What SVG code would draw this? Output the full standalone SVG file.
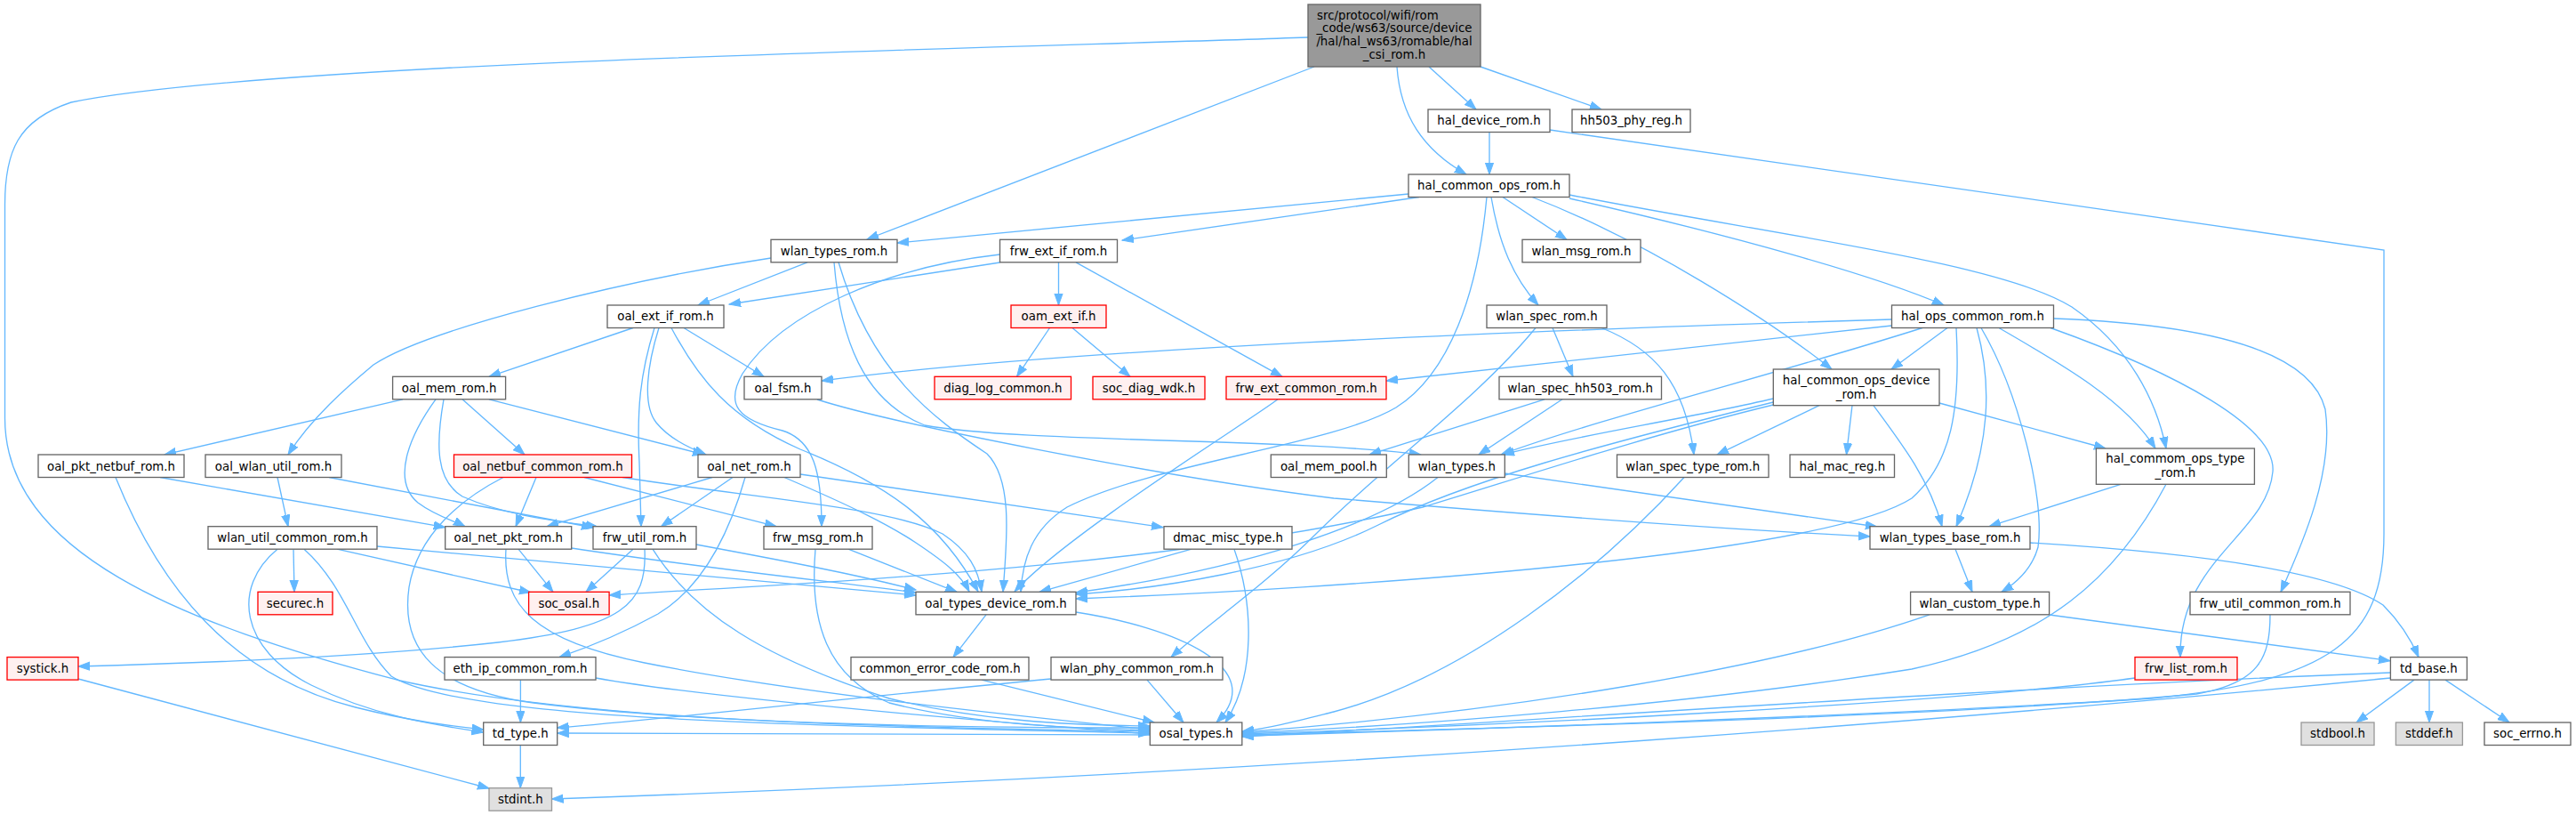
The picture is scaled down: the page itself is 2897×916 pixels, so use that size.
<svg xmlns="http://www.w3.org/2000/svg" width="2897" height="916" viewBox="0 0 2897 916">
<style>
.nd rect{fill:#ffffff;stroke:#666666;stroke-width:1.33}
.rd rect{fill:#fff0f0;stroke:#ff0000;stroke-width:1.33}
.gr rect{fill:#e0e0e0;stroke:#999999;stroke-width:1.33}
.rt rect{fill:#999999;stroke:#666666;stroke-width:1.33}
text{font-family:"DejaVu Sans","Liberation Sans",sans-serif;font-size:13.33px;fill:#000;text-anchor:middle}
#edges path{fill:none;stroke:#63b8ff;stroke-width:1.33;marker-end:url(#a)}
</style>
<defs>
<marker id="a" markerUnits="userSpaceOnUse" markerWidth="15" markerHeight="11" refX="13" refY="5" orient="auto">
<path d="M0,0.4 L13,5 L0,9.6 Z" fill="#63b8ff" stroke="#63b8ff" stroke-width="1"/>
</marker>
</defs>
<rect width="2897" height="916" fill="#ffffff"/>
<g id="edges">
<path d="M1471,42 C1100,55 300,70 80,115 C20,135 5.5,170 5.5,230 L5.5,470 C5.5,620 200,700 450,765 C650,810 1000,818 1293,822"/>
<path d="M1478,75 L975,269"/>
<path d="M1607,75 L1660,123"/>
<path d="M1665,75 L1801,123"/>
<path d="M1571,75 C1575,130 1600,168 1649,196"/>
<path d="M1675,148.5 L1675,196"/>
<path d="M1743,146 L2681,281 L2681,600 C2681,720 2620,765 2420,785 C2100,805 1650,820 1397,827"/>
<path d="M1584,218 L1009,273"/>
<path d="M1596,221.5 L1262,270"/>
<path d="M1690,221.5 L1762,269.3"/>
<path d="M1677,221.5 C1686,275 1702,312 1730,343"/>
<path d="M1672,221.5 C1662,330 1630,420 1570,458 C1500,500 1300,520 1200,570 C1160,595 1150,630 1148,665"/>
<path d="M1723,221.5 C1850,270 1990,360 2060,415"/>
<path d="M1765,223 C1950,265 2110,310 2186,343"/>
<path d="M1765,219 C2000,265 2250,295 2330,345 C2395,390 2425,450 2436,504"/>
<path d="M908,294.8 L785,343"/>
<path d="M867,290 C700,315 480,370 420,410 C390,435 350,470 324,511"/>
<path d="M938,294.8 C945,380 970,450 1040,478 C1150,498 1450,492 1598,511"/>
<path d="M943,294.8 C980,420 1050,470 1110,510 C1140,540 1132,610 1128,665"/>
<path d="M1124.5,295 L820,342"/>
<path d="M1190.5,294.8 L1190.5,343"/>
<path d="M1210,294.8 L1442,423.3"/>
<path d="M1124.5,286 C1000,300 880,350 835,420 C815,455 830,472 880,484 C915,495 924,530 924,591.7"/>
<path d="M712,368.5 L550,423.3"/>
<path d="M769,368.5 L859,423.3"/>
<path d="M741,368.5 C728,410 722,455 738,475 C752,492 772,502 794,511"/>
<path d="M736,368.5 C720,420 716,460 719,520 L721,591.7"/>
<path d="M755,368.5 C785,425 820,470 900,505 C1000,545 1060,590 1100,665"/>
<path d="M1180.5,368.5 L1143.5,423.3"/>
<path d="M1206,368.5 L1271,423.3"/>
<path d="M1746,368.5 L1769,423.3"/>
<path d="M1801,368.5 C1860,392 1895,430 1905,511"/>
<path d="M1727,368.5 C1660,450 1560,520 1480,600 C1420,660 1360,700 1317,738.6"/>
<path d="M2127.5,359 C1700,372 1200,392 924,428"/>
<path d="M2127.5,366 L1559,428"/>
<path d="M2190,368.5 L2127,415"/>
<path d="M2162,368.5 C2000,420 1800,470 1688,511"/>
<path d="M2200,368.5 C2205,460 2195,520 2150,560 C2050,625 1500,662 1210,673"/>
<path d="M2223,368.5 C2240,430 2240,500 2200,591.7"/>
<path d="M2228,368.5 C2270,440 2300,560 2292,615 C2285,640 2268,655 2251,665.3"/>
<path d="M2248,368.5 C2320,410 2390,450 2424,504"/>
<path d="M2306,368.5 C2450,420 2560,480 2556,530 C2550,600 2450,630 2452,738.6"/>
<path d="M2309.5,358 C2500,365 2600,400 2615,460 C2625,530 2590,610 2565,665.3"/>
<path d="M453,448.8 L185,511"/>
<path d="M490,448.8 C460,490 440,540 470,565 C490,580 510,585 523,591.7"/>
<path d="M520,448.8 L590,511"/>
<path d="M550,448.8 L792,511"/>
<path d="M499,448.8 C490,500 490,540 520,558 C570,580 630,586 672,592"/>
<path d="M919,449 C1000,475 1300,535 1500,560 C1800,585 2000,598 2103,603"/>
<path d="M1437,448.8 C1410,470 1200,600 1141,665"/>
<path d="M1737,448.8 L1540,511"/>
<path d="M1757,448.8 L1663,511"/>
<path d="M1994.3,448 C1900,470 1760,492 1690,511"/>
<path d="M1994.3,452 C1800,500 1650,540 1550,590 C1450,640 1300,662 1210,668"/>
<path d="M1994.3,455 C1850,490 1700,540 1600,570 C1300,640 900,655 685,669"/>
<path d="M2046,455.7 L1931,511"/>
<path d="M2083,455.7 L2076.5,511"/>
<path d="M2107,455.7 C2140,500 2170,540 2184,591.7"/>
<path d="M2181,453 L2368,504"/>
<path d="M180,536.5 L500.7,592.7"/>
<path d="M130,536.5 C180,660 260,760 400,795 C460,810 500,815 543.7,820"/>
<path d="M312,536.5 L324,591.7"/>
<path d="M370,536.5 L667,593"/>
<path d="M603,536.5 L580,591.7"/>
<path d="M657,536.5 L873,591.7"/>
<path d="M566,536.5 C520,560 470,600 460,660 C450,730 490,775 600,790 C800,815 1100,818 1293,818"/>
<path d="M700,536.5 C850,560 1000,570 1060,600 C1090,620 1100,640 1104,665"/>
<path d="M801,536.5 L615,591.7"/>
<path d="M824,536.5 L743.5,591.7"/>
<path d="M882,536.5 C960,570 1000,590 1030,610 C1060,630 1080,645 1090,665"/>
<path d="M900,533 L1308,592.7"/>
<path d="M838,536.5 C820,600 790,660 740,690 C700,712 660,728 629,738.6"/>
<path d="M1692.3,532 L2111,592"/>
<path d="M1617,536.5 C1550,590 1400,640 1210,666"/>
<path d="M1894,536.5 C1800,640 1650,760 1500,800 C1460,810 1430,818 1397,822"/>
<path d="M2385,544.3 L2237,591.7"/>
<path d="M2436,544.3 C2380,650 2300,720 2150,752 C1900,792 1600,815 1397,824"/>
<path d="M330,617.2 L331,665.3"/>
<path d="M379,617.2 L597,666"/>
<path d="M424,614 L1030,669"/>
<path d="M312,617.2 C260,660 270,730 350,770 C420,805 490,815 543.7,823"/>
<path d="M342,617.2 C390,660 400,720 440,760 C520,810 900,815 1293,824"/>
<path d="M583,617.2 L622,665.3"/>
<path d="M642.7,616 C800,640 950,655 1030,666"/>
<path d="M569,617.2 C565,680 600,720 725,745 C900,780 1150,805 1293,820"/>
<path d="M712,617.2 L659,665.3"/>
<path d="M783,612 C880,630 960,645 1030,663"/>
<path d="M734,617.2 C780,690 860,740 1000,785 C1100,810 1200,815 1293,816"/>
<path d="M725,617.2 C728,680 700,705 560,722 C400,740 200,746 88,749"/>
<path d="M954,617.2 L1076,665.3"/>
<path d="M917,617.2 C910,700 930,760 1000,790 C1100,815 1200,818 1293,821"/>
<path d="M1340,617.2 L1169,665.3"/>
<path d="M1388,617.2 C1410,680 1412,760 1378,812"/>
<path d="M2199,617.2 L2218,665.3"/>
<path d="M2283,610 C2450,620 2620,640 2680,680 C2700,700 2712,720 2720,738.6"/>
<path d="M1109,690.8 L1072,738.6"/>
<path d="M1210,688 C1320,705 1430,750 1368,812"/>
<path d="M2304.6,691 L2688,742.7"/>
<path d="M2170,690.8 C2000,750 1700,800 1397,823"/>
<path d="M2553,690.8 C2553,740 2540,768 2470,780 C2200,805 1700,818 1397,826"/>
<path d="M88,763 L550,886"/>
<path d="M585.4,764.1 L585.4,812"/>
<path d="M670,762 C800,785 1100,810 1293,825"/>
<path d="M1104,764.1 L1298,812"/>
<path d="M1290,764.1 L1331,812"/>
<path d="M1182,763 C900,790 750,808 626.7,818"/>
<path d="M2401,762 C2200,790 1700,815 1397,825"/>
<path d="M2715,764.1 L2650,812"/>
<path d="M2732,764.1 L2732,812"/>
<path d="M2750,764.1 L2822,812"/>
<path d="M2688.4,756 C2200,775 1700,812 1397,828"/>
<path d="M2688.4,762 C2300,800 1500,868 620.5,898"/>
<path d="M1293.3,826 L626.7,824"/>
<path d="M585.3,837.5 L585.3,885.7"/>
</g>
<g id="n0" class="rt"><rect x="1471" y="5" width="194" height="70"/><text x="1481" y="21.5" style="text-anchor:start">src/protocol/wifi/rom</text><text x="1568" y="36.3">_code/ws63/source/device</text><text x="1568" y="51">/hal/hal_ws63/romable/hal</text><text x="1568" y="65.8">_csi_rom.h</text></g>
<g id="n1" class="nd"><rect x="1606" y="123" width="137" height="25.5"/><text x="1674.5" y="140">hal_device_rom.h</text></g>
<g id="n2" class="nd"><rect x="1768" y="123" width="133" height="25.5"/><text x="1834.5" y="140">hh503_phy_reg.h</text></g>
<g id="n3" class="nd"><rect x="1584" y="196" width="181" height="25.5"/><text x="1674.5" y="213">hal_common_ops_rom.h</text></g>
<g id="n4" class="nd"><rect x="867" y="269.3" width="142" height="25.5"/><text x="938" y="286.5">wlan_types_rom.h</text></g>
<g id="n5" class="nd"><rect x="1124.5" y="269.3" width="132" height="25.5"/><text x="1190.5" y="286.5">frw_ext_if_rom.h</text></g>
<g id="n6" class="nd"><rect x="1712" y="269.3" width="133" height="25.5"/><text x="1778.5" y="286.5">wlan_msg_rom.h</text></g>
<g id="n7" class="nd"><rect x="683" y="343" width="131" height="25.5"/><text x="748.5" y="360.2">oal_ext_if_rom.h</text></g>
<g id="n8" class="rd"><rect x="1137" y="343" width="107" height="25.5"/><text x="1190.5" y="360.2">oam_ext_if.h</text></g>
<g id="n9" class="nd"><rect x="1672" y="343" width="135" height="25.5"/><text x="1739.5" y="360.2">wlan_spec_rom.h</text></g>
<g id="n10" class="nd"><rect x="2127.5" y="343" width="182" height="25.5"/><text x="2218.5" y="360.2">hal_ops_common_rom.h</text></g>
<g id="n11" class="nd"><rect x="441.6" y="423.3" width="127" height="25.5"/><text x="505.1" y="440.5">oal_mem_rom.h</text></g>
<g id="n12" class="nd"><rect x="837" y="423.3" width="87" height="25.5"/><text x="880.5" y="440.5">oal_fsm.h</text></g>
<g id="n13" class="rd"><rect x="1051" y="423.3" width="153.5" height="25.5"/><text x="1127.8" y="440.5">diag_log_common.h</text></g>
<g id="n14" class="rd"><rect x="1229" y="423.3" width="126" height="25.5"/><text x="1292" y="440.5">soc_diag_wdk.h</text></g>
<g id="n15" class="rd"><rect x="1379" y="423.3" width="180" height="25.5"/><text x="1469" y="440.5">frw_ext_common_rom.h</text></g>
<g id="n16" class="nd"><rect x="1686" y="423.3" width="182.5" height="25.5"/><text x="1777.3" y="440.5">wlan_spec_hh503_rom.h</text></g>
<g id="n17" class="nd"><rect x="1994.3" y="415" width="186.7" height="40.7"/><text x="2087.7" y="432">hal_common_ops_device</text><text x="2087.7" y="447.5">_rom.h</text></g>
<g id="n18" class="nd"><rect x="43" y="511" width="164" height="25.5"/><text x="125" y="528.5">oal_pkt_netbuf_rom.h</text></g>
<g id="n19" class="nd"><rect x="231" y="511" width="153" height="25.5"/><text x="307.5" y="528.5">oal_wlan_util_rom.h</text></g>
<g id="n20" class="rd"><rect x="510.5" y="511" width="200" height="25.5"/><text x="610.5" y="528.5">oal_netbuf_common_rom.h</text></g>
<g id="n21" class="nd"><rect x="785" y="511" width="115" height="25.5"/><text x="842.5" y="528.5">oal_net_rom.h</text></g>
<g id="n22" class="nd"><rect x="1429.3" y="511" width="130" height="25.5"/><text x="1494.3" y="528.5">oal_mem_pool.h</text></g>
<g id="n23" class="nd"><rect x="1584.3" y="511" width="108" height="25.5"/><text x="1638.3" y="528.5">wlan_types.h</text></g>
<g id="n24" class="nd"><rect x="1818.5" y="511" width="170.5" height="25.5"/><text x="1903.8" y="528.5">wlan_spec_type_rom.h</text></g>
<g id="n25" class="nd"><rect x="2013" y="511" width="117.5" height="25.5"/><text x="2071.8" y="528.5">hal_mac_reg.h</text></g>
<g id="n26" class="nd"><rect x="2357.4" y="504" width="178" height="40.3"/><text x="2446.4" y="520">hal_commom_ops_type</text><text x="2446.4" y="535.5">_rom.h</text></g>
<g id="n27" class="nd"><rect x="234" y="591.7" width="190" height="25.5"/><text x="329" y="609">wlan_util_common_rom.h</text></g>
<g id="n28" class="nd"><rect x="500.7" y="591.7" width="142" height="25.5"/><text x="571.7" y="609">oal_net_pkt_rom.h</text></g>
<g id="n29" class="nd"><rect x="667" y="591.7" width="116" height="25.5"/><text x="725" y="609">frw_util_rom.h</text></g>
<g id="n30" class="nd"><rect x="859" y="591.7" width="122" height="25.5"/><text x="920" y="609">frw_msg_rom.h</text></g>
<g id="n31" class="nd"><rect x="1309" y="591.7" width="144" height="25.5"/><text x="1381" y="609">dmac_misc_type.h</text></g>
<g id="n32" class="nd"><rect x="2103" y="591.7" width="180" height="25.5"/><text x="2193" y="609">wlan_types_base_rom.h</text></g>
<g id="n33" class="rd"><rect x="290" y="665.3" width="84" height="25.5"/><text x="332" y="682.6">securec.h</text></g>
<g id="n34" class="rd"><rect x="594.6" y="665.3" width="90.5" height="25.5"/><text x="639.9" y="682.6">soc_osal.h</text></g>
<g id="n35" class="nd"><rect x="1030" y="665.3" width="180" height="25.5"/><text x="1120" y="682.6">oal_types_device_rom.h</text></g>
<g id="n36" class="nd"><rect x="2148.6" y="665.3" width="156" height="25.5"/><text x="2226.6" y="682.6">wlan_custom_type.h</text></g>
<g id="n37" class="nd"><rect x="2463" y="665.3" width="180" height="25.5"/><text x="2553" y="682.6">frw_util_common_rom.h</text></g>
<g id="n38" class="rd"><rect x="8" y="738.6" width="80" height="25.5"/><text x="48" y="756">systick.h</text></g>
<g id="n39" class="nd"><rect x="500" y="738.6" width="170" height="25.5"/><text x="585" y="756">eth_ip_common_rom.h</text></g>
<g id="n40" class="nd"><rect x="957" y="738.6" width="200" height="25.5"/><text x="1057" y="756">common_error_code_rom.h</text></g>
<g id="n41" class="nd"><rect x="1182" y="738.6" width="193" height="25.5"/><text x="1278.5" y="756">wlan_phy_common_rom.h</text></g>
<g id="n42" class="rd"><rect x="2401" y="738.6" width="115" height="25.5"/><text x="2458.5" y="756">frw_list_rom.h</text></g>
<g id="n43" class="nd"><rect x="2688.4" y="738.6" width="86" height="25.5"/><text x="2731.4" y="756">td_base.h</text></g>
<g id="n44" class="nd"><rect x="543.7" y="812" width="83" height="25.5"/><text x="585.2" y="829.3">td_type.h</text></g>
<g id="n45" class="nd"><rect x="1293.3" y="812" width="103.5" height="25.5"/><text x="1345.1" y="829.3">osal_types.h</text></g>
<g id="n46" class="gr"><rect x="2588" y="812" width="82" height="25.5"/><text x="2629" y="829.3">stdbool.h</text></g>
<g id="n47" class="gr"><rect x="2694.4" y="812" width="75" height="25.5"/><text x="2731.9" y="829.3">stddef.h</text></g>
<g id="n48" class="nd"><rect x="2794" y="812" width="97" height="25.5"/><text x="2842.5" y="829.3">soc_errno.h</text></g>
<g id="n49" class="gr"><rect x="550" y="885.7" width="70.5" height="25.5"/><text x="585.3" y="903">stdint.h</text></g>
</svg>
